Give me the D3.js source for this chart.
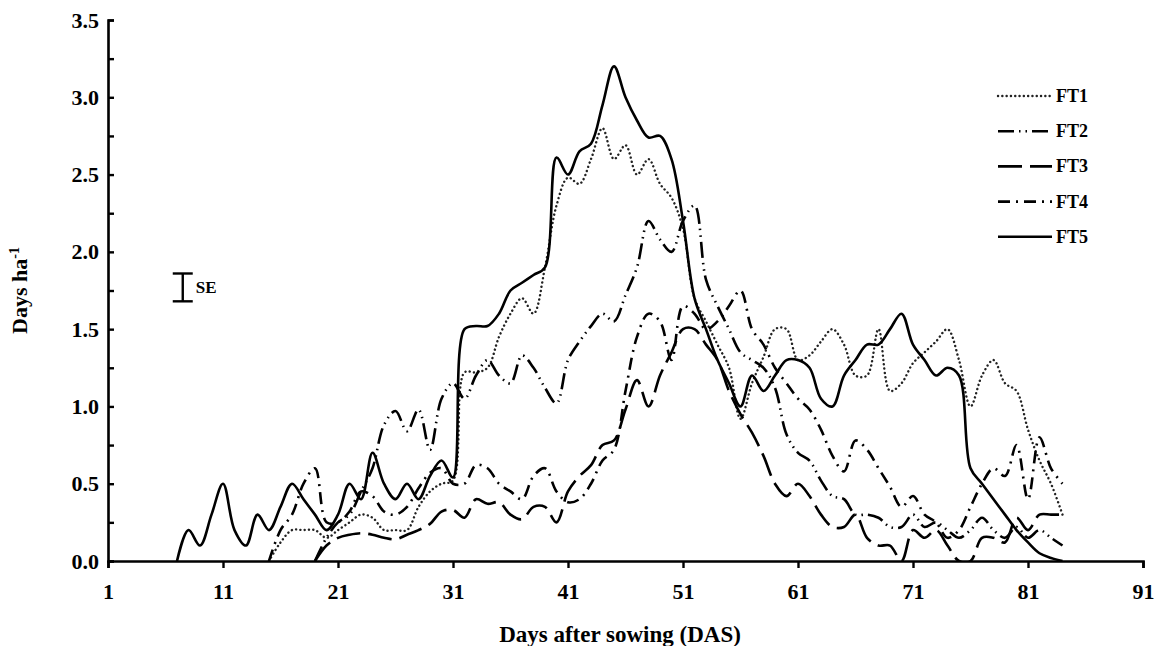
<!DOCTYPE html>
<html>
<head>
<meta charset="utf-8">
<script src="https://cdn.jsdelivr.net/npm/d3@7"></script>
<style>
  body { margin: 0; background: #fff; }
  text { font-family: "Liberation Serif", "Times New Roman", serif; font-weight: bold; fill: #000; }
</style>
</head>
<body>
<svg id="chart" width="1159" height="646"></svg>
<script>
// tick values
const xTicks = [1, 11, 21, 31, 41, 51, 61, 71, 81, 91];
const yLabels = [0, 0.5, 1, 1.5, 2, 2.5, 3, 3.5];
const yMinor = [0, 0.25, 0.5, 0.75, 1, 1.25, 1.5, 1.75, 2, 2.25, 2.5, 2.75, 3, 3.25, 3.5];

// series: first day and daily values
const seriesNames = ["FT1", "FT2", "FT3", "FT4", "FT5"];
const startDays = [15, 19, 19, 15, 7];

const ft1 = [0, 0.12, 0.2, 0.2, 0.2, 0.15, 0.2, 0.25, 0.3, 0.28, 0.2, 0.2, 0.2, 0.35, 0.45, 0.5, 0.52,
  1.22, 1.22, 1.25, 1.45, 1.6, 1.7, 1.6, 1.9, 2.3, 2.48, 2.44, 2.6, 2.8, 2.6, 2.69, 2.5, 2.6, 2.44,
  2.35, 2.15, 1.7, 1.55, 1.4, 1.25, 0.92, 1.15, 1.32, 1.5, 1.5, 1.3, 1.33, 1.42, 1.5, 1.4, 1.2, 1.2,
  1.5, 1.1, 1.15, 1.28, 1.35, 1.42, 1.5, 1.3, 1.0, 1.2, 1.3, 1.15, 1.1, 0.85, 0.65, 0.5, 0.3];

const ft2 = [0, 0.15, 0.25, 0.3, 0.45, 0.6, 0.88, 0.97, 0.84, 0.98, 0.72, 1.05, 1.15, 1.05, 1.2, 1.3,
  1.2, 1.15, 1.33, 1.25, 1.12, 1.02, 1.3, 1.42, 1.52, 1.6, 1.55, 1.72, 1.9, 2.2, 2.08, 2.0, 2.2, 2.3,
  1.82, 1.65, 1.5, 1.35, 1.3, 1.25, 1.12, 0.82, 0.7, 0.65, 0.52, 0.42, 0.4, 0.3, 0.3, 0.28, 0.22,
  0.22, 0.3, 0.22, 0.25, 0.2, 0.15, 0.2, 0.28, 0.2, 0.15, 0.22, 0.15, 0.2, 0.15, 0.1];

const ft3 = [0, 0.1, 0.15, 0.17, 0.18, 0.17, 0.15, 0.14, 0.17, 0.2, 0.24, 0.32, 0.33, 0.28, 0.4, 0.37,
  0.38, 0.3, 0.27, 0.35, 0.35, 0.25, 0.45, 0.55, 0.62, 0.75, 0.78, 0.98, 1.17, 1.0, 1.2, 1.35, 1.5,
  1.5, 1.4, 1.3, 1.1, 0.95, 0.83, 0.68, 0.5, 0.42, 0.5, 0.42, 0.3, 0.22, 0.22, 0.3, 0.15, 0.1, 0.1,
  0, 0.2, 0.15, 0.2, 0.1, 0, 0, 0.15, 0.15, 0.12, 0.28, 0.2, 0.3, 0.3, 0.3];

const ft4 = [0, 0.2, 0.3, 0.5, 0.6, 0.25, 0.25, 0.32, 0.45, 0.42, 0.32, 0.3, 0.35, 0.47, 0.57, 0.6,
  0.5, 0.5, 0.62, 0.6, 0.5, 0.45, 0.4, 0.55, 0.6, 0.45, 0.38, 0.4, 0.5, 0.65, 0.72, 1.1, 1.45, 1.6,
  1.55, 1.3, 1.65, 1.6, 1.5, 1.55, 1.65, 1.75, 1.5, 1.4, 1.25, 1.15, 1.05, 0.98, 0.85, 0.68, 0.58,
  0.78, 0.72, 0.6, 0.48, 0.35, 0.42, 0.3, 0.25, 0.15, 0.2, 0.35, 0.5, 0.6, 0.55, 0.75, 0.4, 0.8,
  0.6, 0.5];

const ft5 = [0, 0.2, 0.1, 0.3, 0.5, 0.2, 0.1, 0.3, 0.2, 0.35, 0.5, 0.4, 0.3, 0.2, 0.3, 0.5, 0.4, 0.7,
  0.5, 0.4, 0.5, 0.4, 0.55, 0.65, 0.54, 1.5, 1.52, 1.52, 1.6, 1.75, 1.8, 1.85, 1.9, 2.61, 2.5, 2.65,
  2.7, 2.95, 3.2, 3.0, 2.85, 2.74, 2.75, 2.6, 2.2, 1.7, 1.5, 1.3, 1.15, 1.0, 1.2, 1.1, 1.2, 1.3,
  1.3, 1.25, 1.05, 1.0, 1.2, 1.3, 1.4, 1.4, 1.5, 1.6, 1.4, 1.3, 1.2, 1.25, 1.2, 0.6, 0.5, 0.4, 0.3,
  0.2, 0.12, 0.05, 0.02, 0];

const seriesValues = [ft1, ft2, ft3, ft4, ft5];

// standard error bar
const seDay = 7.5;
const seLow = 1.68;
const seHigh = 1.86;

const width = 1159, height = 646;
const margin = { top: 20, right: 16, bottom: 85, left: 108 };

const svg = d3.select("#chart");

const x = d3.scaleLinear().domain([1, 91]).range([margin.left, width - margin.right]);
const y = d3.scaleLinear().domain([0, 3.5]).range([height - margin.bottom, margin.top]);

// line styles for each treatment
const styles = [
  { dash: "0.1 4.2", cap: "round", width: 2.4 },
  { dash: "16 5 1.5 5 1.5 5", cap: "butt", width: 2.6 },
  { dash: "24 8", cap: "butt", width: 2.6 },
  { dash: "12 6 2 6", cap: "butt", width: 2.6 },
  { dash: null, cap: "butt", width: 2.6 }
];

svg.append("clipPath").attr("id", "plot-clip")
  .append("rect")
  .attr("x", margin.left).attr("y", 0)
  .attr("width", width - margin.left - margin.right)
  .attr("height", height - margin.bottom);

const line = d3.line()
  .x(d => x(d.day))
  .y(d => y(d.v))
  .curve(d3.curveCatmullRom.alpha(0.5));

const lines = svg.append("g").attr("clip-path", "url(#plot-clip)");

seriesValues.forEach((vals, i) => {
  const pts = vals.map((v, k) => ({ day: startDays[i] + k, v: v }));
  const st = styles[i];
  lines.append("path")
    .datum(pts)
    .attr("d", line)
    .attr("fill", "none")
    .attr("stroke", i === 0 ? "#222" : "#000")
    .attr("stroke-width", st.width)
    .attr("stroke-linecap", st.cap)
    .attr("stroke-linejoin", "round")
    .attr("stroke-dasharray", st.dash);
});

// y axis: minor ticks inward, labels every 0.5
svg.append("g")
  .attr("transform", `translate(${margin.left},0)`)
  .call(d3.axisLeft(y).tickValues(yMinor).tickSize(-6).tickFormat(""))
  .call(g => g.select(".domain").attr("stroke-width", 2.6))
  .call(g => g.selectAll(".tick line").attr("stroke-width", 2.4));

svg.append("g")
  .attr("transform", `translate(${margin.left},0)`)
  .call(d3.axisLeft(y).tickValues(yLabels).tickSize(0).tickPadding(9).tickFormat(d3.format(".1f")))
  .call(g => g.select(".domain").remove())
  .call(g => g.selectAll("text").style("font-size", "22px").attr("font-family", null));

// x axis
svg.append("g")
  .attr("transform", `translate(0,${y(0)})`)
  .call(d3.axisBottom(x).tickValues(xTicks).tickSize(7).tickPadding(15))
  .call(g => g.select(".domain").attr("stroke-width", 2.6))
  .call(g => g.selectAll(".tick line").attr("stroke-width", 2.4))
  .call(g => g.selectAll("text").style("font-size", "22px").attr("font-family", null));

// axis titles
svg.append("text")
  .attr("x", 620)
  .attr("y", 642)
  .attr("text-anchor", "middle")
  .style("font-size", "23px")
  .text("Days after sowing (DAS)");

const yt = svg.append("text")
  .attr("transform", `translate(27,${y(1.75)}) rotate(-90)`)
  .attr("text-anchor", "middle")
  .style("font-size", "22px");
yt.append("tspan").text("Days ha");
yt.append("tspan").attr("dy", -8).style("font-size", "14px").text("-1");

// SE bar
const se = svg.append("g").attr("stroke", "#000").attr("stroke-width", 2.4);
se.append("line").attr("x1", x(seDay)).attr("x2", x(seDay)).attr("y1", y(seHigh)).attr("y2", y(seLow));
se.append("line").attr("x1", x(seDay) - 10).attr("x2", x(seDay) + 10).attr("y1", y(seHigh)).attr("y2", y(seHigh));
se.append("line").attr("x1", x(seDay) - 10).attr("x2", x(seDay) + 10).attr("y1", y(seLow)).attr("y2", y(seLow));
svg.append("text")
  .attr("x", x(seDay) + 13)
  .attr("y", y((seHigh + seLow) / 2) + 6)
  .style("font-size", "17px")
  .attr("fill", "#111")
  .text("SE");

// legend
const legend = svg.append("g").attr("transform", "translate(998,96)");
seriesNames.forEach((name, i) => {
  const row = legend.append("g").attr("transform", `translate(0,${i * 35.2})`);
  const st = styles[i];
  row.append("line")
    .attr("x1", 0).attr("x2", 54).attr("y1", 0).attr("y2", 0)
    .attr("stroke", i === 0 ? "#222" : "#000")
    .attr("stroke-width", st.width)
    .attr("stroke-linecap", st.cap)
    .attr("stroke-dasharray", st.dash);
  row.append("text")
    .attr("x", 58).attr("y", 6)
    .style("font-size", "18px")
    .text(name);
});
</script>
</body>
</html>
